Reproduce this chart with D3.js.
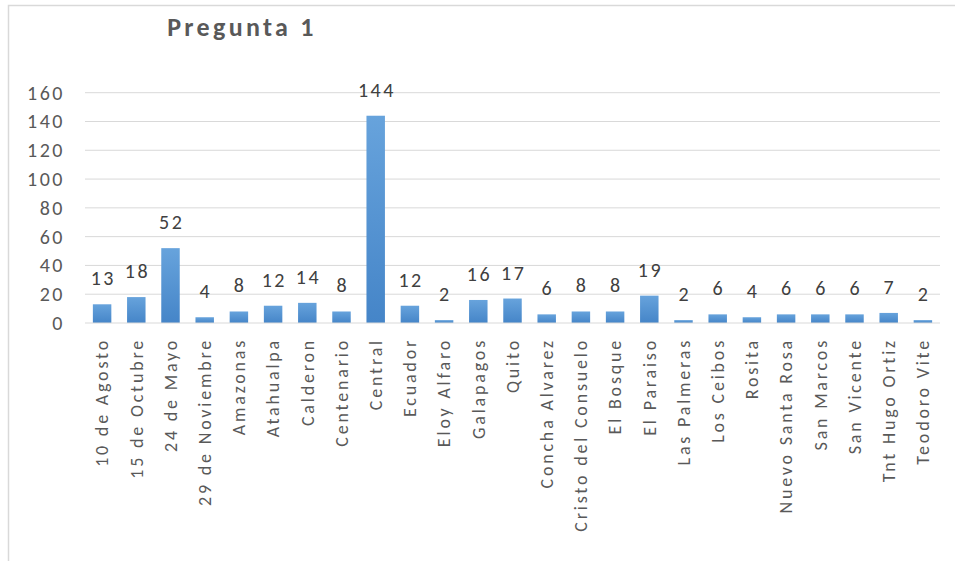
<!DOCTYPE html>
<html>
<head>
<meta charset="utf-8">
<script src="https://cdn.jsdelivr.net/npm/d3@7"></script>
<style>
  body { margin: 0; background: #fff; }
  text { font-family: Carlito, "Liberation Sans", "DejaVu Sans", sans-serif; }
</style>
</head>
<body>
<div id="chart"></div>
<script>
var categories = ["10 de Agosto", "15 de Octubre", "24 de Mayo", "29 de Noviembre", "Amazonas",
  "Atahualpa", "Calderon", "Centenario", "Central", "Ecuador", "Eloy Alfaro", "Galapagos",
  "Quito", "Concha Alvarez", "Cristo del Consuelo", "El Bosque", "El Paraiso", "Las Palmeras",
  "Los Ceibos", "Rosita", "Nuevo Santa Rosa", "San Marcos", "San Vicente", "Tnt Hugo Ortiz",
  "Teodoro Vite"];
var values = [13, 18, 52, 4, 8, 12, 14, 8, 144, 12, 2, 16, 17, 6, 8, 8, 19, 2, 6, 4, 6, 6, 6, 7, 2];
var yTicks = [0, 20, 40, 60, 80, 100, 120, 140, 160];

var width = 955, height = 561;
var plotLeft = 85, plotRight = 940, plotTop = 92.7, plotBottom = 323;

var svg = d3.select("#chart").append("svg")
    .attr("width", width)
    .attr("height", height);

// chart frame
svg.append("path")
    .attr("d", "M8.5," + height + "V5.5H" + width)
    .attr("fill", "none")
    .attr("stroke", "#d9d9d9")
    .attr("stroke-width", 1.5);

var grad = svg.append("defs").append("linearGradient")
    .attr("id", "barGrad")
    .attr("x1", 0).attr("y1", 0).attr("x2", 0).attr("y2", 1);
grad.append("stop").attr("offset", "0%").attr("stop-color", "#67a3dc");
grad.append("stop").attr("offset", "100%").attr("stop-color", "#4585c8");

var x = d3.scaleBand()
    .domain(categories)
    .range([plotLeft, plotRight])
    .paddingInner(0.46)
    .paddingOuter(0.23);

var y = d3.scaleLinear()
    .domain([0, 160])
    .range([plotBottom, plotTop]);

// gridlines
svg.append("g")
    .selectAll("line")
    .data(yTicks.slice(1))
    .enter()
    .append("line")
    .attr("x1", plotLeft)
    .attr("x2", plotRight)
    .attr("y1", function (d) { return y(d); })
    .attr("y2", function (d) { return y(d); })
    .attr("stroke", "#d9d9d9")
    .attr("stroke-width", 1);

// y labels
svg.append("g")
    .selectAll("text")
    .data(yTicks)
    .enter()
    .append("text")
    .attr("x", 65)
    .attr("y", function (d) { return y(d); })
    .attr("dy", "0.35em")
    .attr("text-anchor", "end")
    .attr("fill", "#595959")
    .style("font-size", "20px")
    .style("letter-spacing", "2.5px")
    .text(function (d) { return d; });

// bars
svg.append("g")
    .selectAll("rect")
    .data(values)
    .enter()
    .append("rect")
    .attr("x", function (d, i) { return x(categories[i]); })
    .attr("y", function (d) { return y(d); })
    .attr("width", x.bandwidth())
    .attr("height", function (d) { return y(0) - y(d); })
    .attr("fill", "url(#barGrad)");

// baseline
svg.append("line")
    .attr("x1", plotLeft).attr("x2", plotRight)
    .attr("y1", y(0)).attr("y2", y(0))
    .attr("stroke", "#d9d9d9")
    .attr("stroke-width", 1.2);

// value labels
svg.append("g")
    .selectAll("text")
    .data(values)
    .enter()
    .append("text")
    .attr("x", function (d, i) { return x(categories[i]) + x.bandwidth() / 2 + 1.2; })
    .attr("y", function (d) { return y(d) - 19; })
    .attr("text-anchor", "middle")
    .attr("fill", "#404040")
    .style("font-size", "20px")
    .style("letter-spacing", "2.5px")
    .text(function (d) { return d; });

// category labels
svg.append("g")
    .selectAll("text")
    .data(categories)
    .enter()
    .append("text")
    .attr("transform", function (d) {
        return "translate(" + (x(d) + x.bandwidth() / 2) + "," + 338 + ") rotate(-90)";
    })
    .attr("dy", "0.35em")
    .attr("text-anchor", "end")
    .attr("fill", "#595959")
    .style("font-size", "18px")
    .style("letter-spacing", "2.8px")
    .text(function (d) { return d; });

// title
svg.append("text")
    .attr("x", 242)
    .attr("y", 36)
    .attr("text-anchor", "middle")
    .attr("fill", "#595959")
    .style("font-size", "26px")
    .style("font-weight", "bold")
    .style("letter-spacing", "3.3px")
    .text("Pregunta 1");
</script>
</body>
</html>
